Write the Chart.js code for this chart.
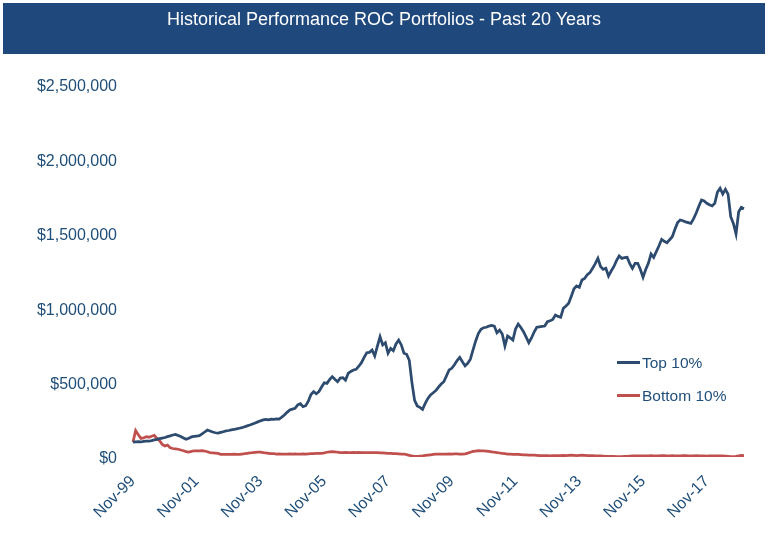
<!DOCTYPE html>
<html>
<head>
<meta charset="utf-8">
<script src="https://cdn.jsdelivr.net/npm/chart.js@4/dist/chart.umd.min.js"></script>
<style>
  html, body { margin: 0; padding: 0; background: #ffffff; }
  #wrap { position: relative; width: 768px; height: 557px; overflow: hidden; }
  #banner { position: absolute; left: 3px; top: 3px; width: 762px; height: 51px; background: #1F497D; }
  #title { position: absolute; left: 0; top: 8px; width: 768px; text-align: center; color: #ffffff;
           font-family: "Liberation Sans", Arial, sans-serif; font-size: 18px; line-height: 22px; }
  .leg { position: absolute; left: 617px; font-family: "Liberation Sans", Arial, sans-serif; font-size: 15.5px;
         color: #1F4E79; line-height: 18px; height: 18px; white-space: nowrap; }
  .leg span.sw { display: inline-block; width: 23px; height: 3px; vertical-align: middle; margin-right: 2px; position: relative; top: -1px; }
  #c { position: absolute; left: 0; top: 0; }
</style>
</head>
<body>
<div id="wrap">
  <canvas id="c" width="768" height="557"></canvas>
  <div id="banner"></div>
  <div id="title">Historical Performance ROC Portfolios - Past 20 Years</div>
  <div class="leg" id="leg1" style="top:354px;"><span class="sw" style="background:#2D4A6F"></span>Top 10%</div>
  <div class="leg" id="leg2" style="top:387px;"><span class="sw" style="background:#C0504D"></span>Bottom 10%</div>
</div>
<script>
// Monthly categories: Nov-99 through Jan-19
const startYear = 1999, startMonth = 10, monthCount = 231;
const monthNames = ['Jan','Feb','Mar','Apr','May','Jun','Jul','Aug','Sep','Oct','Nov','Dec'];
const categories = [];
for (let i = 0; i < monthCount; i++) {
  const mm = (startMonth + i) % 12;
  const yy = startYear + Math.floor((startMonth + i) / 12);
  categories.push(monthNames[mm] + '-' + String(yy % 100).padStart(2, '0'));
}

// Tick labels shown on the x axis
const xTickLabels = ['Nov-99','Nov-01','Nov-03','Nov-05','Nov-07','Nov-09','Nov-11','Nov-13','Nov-15','Nov-17'];

// y-axis tick values
const yTicks = [0, 500000, 1000000, 1500000, 2000000, 2500000];

const seriesNames = ['Top 10%', 'Bottom 10%'];

const top10 = [
  100000,102000,104000,101000,105000,107000,106000,110000,115000,118000,
  123000,127000,131000,137000,142000,148000,152000,145000,137000,128000,
  119000,126000,135000,138000,141000,143000,155000,168000,181000,175000,
  168000,163000,160000,165000,170000,175000,178000,182000,185000,189000,
  193000,197000,203000,209000,215000,222000,229000,236000,243000,249000,
  252000,250000,254000,253000,256000,255000,268000,282000,300000,316000,
  322000,327000,350000,358000,338000,345000,375000,420000,439000,425000,
  440000,470000,499000,495000,520000,540000,522000,506000,530000,533000,
  517000,562000,575000,585000,589000,610000,634000,670000,701000,703000,
  719000,679000,745000,808000,753000,768000,697000,730000,714000,760000,
  786000,753000,697000,690000,650000,500000,380000,343000,334000,320000,
  360000,394000,417000,432000,446000,470000,490000,506000,545000,585000,
  596000,620000,648000,670000,640000,612000,630000,657000,720000,780000,
  830000,858000,869000,872000,880000,885000,880000,835000,853000,827000,
  746000,813000,800000,786000,860000,894000,870000,842000,805000,768000,
  800000,840000,872000,875000,878000,880000,909000,915000,925000,954000,
  945000,939000,999000,1015000,1033000,1080000,1130000,1149000,1140000,1190000,
  1200000,1225000,1239000,1268000,1300000,1335000,1280000,1261000,1268000,1216000,
  1250000,1279000,1320000,1351000,1335000,1340000,1342000,1300000,1268000,1302000,
  1302000,1260000,1208000,1260000,1302000,1364000,1342000,1380000,1420000,1463000,
  1450000,1440000,1460000,1480000,1530000,1575000,1593000,1588000,1580000,1575000,
  1570000,1600000,1640000,1685000,1727000,1720000,1705000,1695000,1687000,1705000,
  1780000,1806000,1767000,1799000,1767000,1615000,1570000,1499000,1648000,1678000,
  1669000
];

const bottom10 = [
  100000,178000,150000,125000,128000,137000,133000,140000,146000,125000,
  110000,85000,74000,80000,62000,57000,55000,52000,47000,42000,
  36000,33000,38000,42000,42000,41000,42000,40000,35000,30000,
  28000,26000,24000,18000,17000,18000,17000,18000,19000,18000,
  18000,20000,22000,25000,27000,30000,31000,32000,32000,30000,
  27000,25000,23000,22000,20000,21000,20000,19000,20000,21000,
  20000,21000,20000,20000,21000,20000,21000,22000,23000,24000,
  25000,25000,28000,32000,35000,36000,35000,32000,30000,30000,
  31000,30000,30000,31000,30000,31000,30000,30000,29000,30000,
  30000,30000,29000,28000,27000,26000,25000,24000,23000,22000,
  21000,20000,20000,16000,11000,7000,4000,4000,6000,8000,
  11000,13000,15000,17000,19000,19000,20000,20000,20000,21000,
  20000,21000,21000,20000,20000,21000,26000,32000,38000,40000,
  42000,41000,41000,40000,38000,35000,32000,30000,27000,24000,
  22000,20000,19000,18000,17000,17000,16000,15000,14000,13000,
  12000,12000,11000,10000,10000,9000,9000,8000,9000,10000,
  9000,10000,11000,10000,11000,12000,11000,10000,11000,12000,
  11000,10000,9000,9000,8000,8000,7000,6000,5000,5000,
  4000,4000,3000,3000,3000,4000,5000,6000,7000,8000,
  8000,8000,7000,8000,8000,9000,8000,8000,8000,9000,
  9000,8000,8000,9000,8000,8000,8000,9000,9000,8000,
  8000,8000,9000,8000,8000,7000,6000,7000,8000,8000,
  8000,7000,7000,6000,5000,3000,2000,4000,8000,11000,
  10000
];

const textColor = '#1F4E79';
const fontFamily = '"Liberation Sans", Arial, sans-serif';

new Chart(document.getElementById('c'), {
  type: 'line',
  data: {
    labels: categories,
    datasets: [
      { label: seriesNames[0], data: top10, borderColor: '#2D4A6F', borderWidth: 2.75, pointRadius: 0, tension: 0, fill: false },
      { label: seriesNames[1], data: bottom10, borderColor: '#C0504D', borderWidth: 2.75, pointRadius: 0, tension: 0, fill: false }
    ]
  },
  options: {
    responsive: false,
    animation: false,
    layout: { padding: { top: 85, right: 24, bottom: 0, left: 0 } },
    plugins: { legend: { display: false }, title: { display: false }, tooltip: { enabled: false } },
    scales: {
      x: {
        type: 'category',
        offset: false,
        grid: { display: false, drawTicks: false },
        border: { display: false },
        afterFit: (s) => { s.height = 100; },
        ticks: {
          autoSkip: false,
          minRotation: 45,
          maxRotation: 45,
          padding: 15,
          color: textColor,
          font: { family: fontFamily, size: 16 },
          callback: function (v, i) {
            const lab = categories[i];
            return xTickLabels.includes(lab) ? lab : null;
          }
        }
      },
      y: {
        min: yTicks[0],
        max: yTicks[yTicks.length - 1],
        grid: { display: false, drawTicks: false },
        border: { display: false },
        afterFit: (s) => { s.width = 133; },
        afterBuildTicks: (s) => { s.ticks = yTicks.map(v => ({ value: v })); },
        ticks: {
          padding: 16,
          labelOffset: 2,
          color: textColor,
          font: { family: fontFamily, size: 16 },
          callback: (v) => '$' + Number(v).toLocaleString('en-US')
        }
      }
    }
  }
});
</script>
</body>
</html>
